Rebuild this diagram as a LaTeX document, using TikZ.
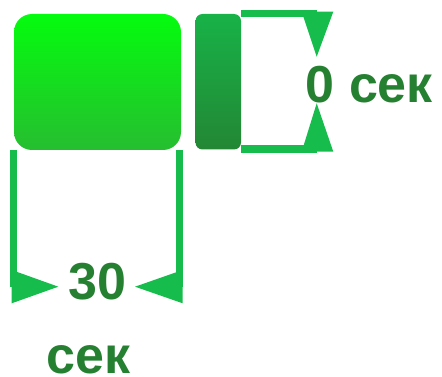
\documentclass[tikz,border=0pt]{standalone}
\usepackage{fontspec}
\setmainfont{Liberation Sans}
\definecolor{dimgreen}{RGB}{22,189,76}
\definecolor{txtgreen}{RGB}{38,128,50}
\definecolor{bigtop}{RGB}{4,252,14}
\definecolor{bigbot}{RGB}{38,190,48}
\definecolor{smalltop}{RGB}{24,178,72}
\definecolor{smallbot}{RGB}{35,135,52}
\begin{document}
\begin{tikzpicture}[x=1pt,y=-1pt,
  dimfill/.style={fill=dimgreen,draw=none},
  label/.style={inner sep=0pt,anchor=base west,text=txtgreen,font=\fontsize{52}{60}\bfseries\selectfont}]
\useasboundingbox (0,0) rectangle (442,377);
% blocks
\shade[top color=bigtop,bottom color=bigbot,rounded corners=18pt] (14,14) rectangle (181,150);
\shade[top color=smalltop,bottom color=smallbot,rounded corners=7pt] (195.5,14) rectangle (241,149.5);
% right dimension
\fill[dimfill] (241,10) rectangle (316.7,16.7);
\fill[dimfill] (301.7,11.7) -- (333.3,11.7) -- (316.7,56.7) -- cycle;
\fill[dimfill] (241,145.2) rectangle (316.7,153.2);
\fill[dimfill] (301.7,151.7) -- (333.3,151.7) -- (316.7,103.3) -- cycle;
% bottom dimension
\fill[dimfill] (10,150) rectangle (17.3,287);
\fill[dimfill] (11.7,270) -- (11.7,303.3) -- (58.3,286.7) -- cycle;
\fill[dimfill] (176,150) rectangle (183.3,287);
\fill[dimfill] (182.7,270) -- (182.7,303.3) -- (135,286.7) -- cycle;
% texts
\node[label] (t0) at (305.5,102.3) {0 сек};
\node[label] (t30) at (68.3,299.3) {30};
\node[label] (tsek) at (46.3,373.3) {сек};
\end{tikzpicture}
\end{document}
